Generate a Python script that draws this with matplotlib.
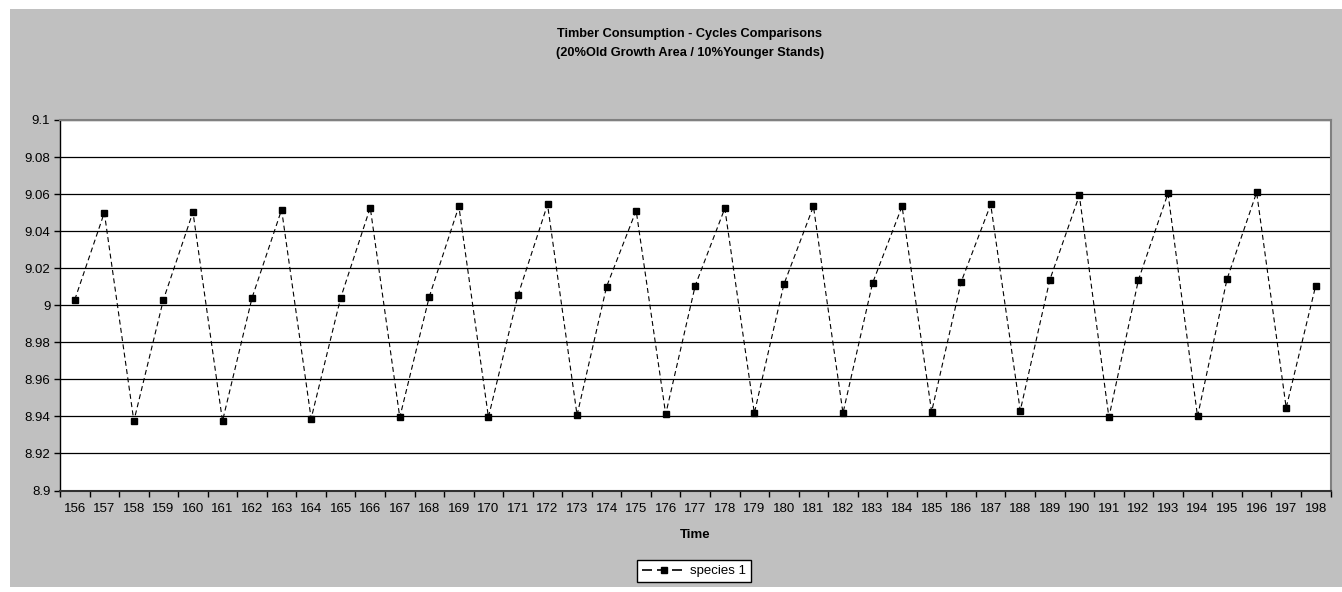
import matplotlib
matplotlib.use("Agg")
import matplotlib.pyplot as plt
from matplotlib.patches import Rectangle
from matplotlib.ticker import FixedLocator

plt.rcParams['font.family'] = ['Liberation Sans', 'DejaVu Sans']

# Time steps and the consumption series
time_steps = list(range(156, 199))
species_1 = [
    9.003, 9.050, 8.9375, 9.003, 9.0503, 8.9375, 9.004, 9.0516, 8.9388,
    9.004, 9.0527, 8.9395, 9.0047, 9.0534, 8.9396, 9.0054, 9.0544, 8.9407,
    9.0101, 9.0511, 8.9412, 9.0106, 9.0523, 8.9418, 9.0113, 9.0534, 8.9418,
    9.0119, 9.0534, 8.9425, 9.0126, 9.0544, 8.9431, 9.0137, 9.0593, 8.9395,
    9.0137, 9.0604, 8.940, 9.0142, 9.0609, 8.9447, 9.0106,
]
y_ticks = [8.9, 8.92, 8.94, 8.96, 8.98, 9.0, 9.02, 9.04, 9.06, 9.08, 9.1]
y_tick_labels = ["8.9", "8.92", "8.94", "8.96", "8.98", "9", "9.02", "9.04", "9.06", "9.08", "9.1"]

W, H = 1342, 592
fig = plt.figure(figsize=(W / 100, H / 100), dpi=100)
fig.patch.set_facecolor("white")

# grey chart area behind everything
fig.patches.append(Rectangle((10 / W, 5 / H), 1332 / W, 578 / H,
                             transform=fig.transFigure, facecolor="#C0C0C0",
                             edgecolor="none", zorder=-10))

ax = fig.add_axes([60 / W, 101.5 / H, 1270.5 / W, 370.5 / H])
ax.set_zorder(1)
ax.set_facecolor("white")

x = list(range(len(time_steps)))
ax.plot(x, species_1, color="black", linestyle=(0, (4.5, 3)), linewidth=0.8,
        marker="s", markersize=4.6, markerfacecolor="black",
        markeredgecolor="black", label="species 1", zorder=3)

ax.set_xlim(-0.5, len(time_steps) - 0.5)
ax.set_ylim(8.9, 9.1)

# category labels at centres, tick marks at boundaries
ax.set_xticks(x)
ax.set_xticklabels([str(t) for t in time_steps], fontsize=9.5)
ax.tick_params(axis="x", which="major", length=0, pad=9)
ax.xaxis.set_minor_locator(FixedLocator([i - 0.5 for i in range(len(time_steps) + 1)]))
ax.tick_params(axis="x", which="minor", length=4, width=1, direction="out", color="black")

ax.set_yticks(y_ticks)
ax.set_yticklabels(y_tick_labels, fontsize=9.5)
ax.tick_params(axis="y", length=4, width=1, direction="out", color="black", pad=3)

ax.yaxis.grid(True, color="black", linewidth=0.9)
ax.set_axisbelow(True)

for side in ("top", "right"):
    ax.spines[side].set_color("#808080")
    ax.spines[side].set_linewidth(1.5)
ax.spines["left"].set_color("black")
ax.spines["left"].set_linewidth(1.0)
ax.spines["bottom"].set_color("#303030")
ax.spines["bottom"].set_linewidth(1.5)

ax.set_xlabel("Time", fontsize=9.5, fontweight="bold", labelpad=10)

fig.text(0.514, 1 - 34 / H, "Timber Consumption - Cycles Comparisons",
         ha="center", va="center", fontsize=9.2, fontweight="bold")
fig.text(0.514, 1 - 53 / H, "(20%Old Growth Area / 10%Younger Stands)",
         ha="center", va="center", fontsize=9.2, fontweight="bold")

leg = fig.legend(loc="center", bbox_to_anchor=(694 / W, 1 - 571 / H),
                 fontsize=9.5, frameon=True, fancybox=False, shadow=False,
                 framealpha=1.0, handlelength=3.4, handletextpad=0.3,
                 borderpad=0.35, borderaxespad=0)
leg.get_frame().set_edgecolor("black")
leg.get_frame().set_linewidth(1.0)
leg.get_frame().set_facecolor("white")
for handle in leg.legend_handles:
    handle.set_linestyle((0, (6, 3)))
    handle.set_linewidth(1.2)

fig.savefig("out.png", dpi=100, facecolor=fig.get_facecolor())
